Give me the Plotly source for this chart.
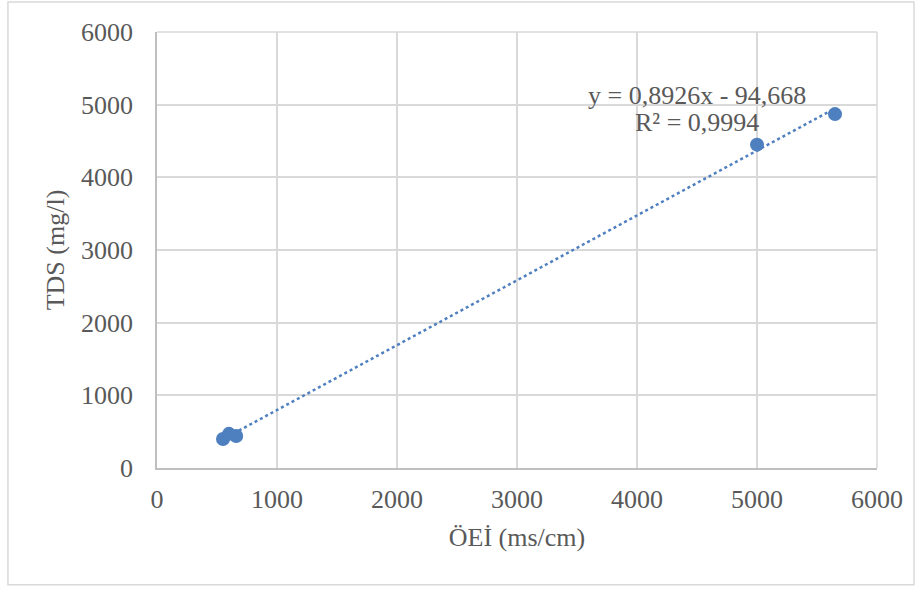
import plotly.graph_objects as go

# Data
oei = [550, 600, 660, 5000, 5650]          # ÖEİ (ms/cm)
tds = [400, 470, 440, 4450, 4870]          # TDS (mg/l)
slope = 0.8926
intercept = -94.668
eq_text = "y = 0,8926x - 94,668"
r2_text = "R² = 0,9994"
tick_vals = [0, 1000, 2000, 3000, 4000, 5000, 6000]

blue = "#4e7fbf"
font = "Liberation Serif, Times New Roman, serif"
fs = 26

x_fit = [min(oei), max(oei)]
y_fit = [slope * v + intercept for v in x_fit]

fig = go.Figure()
fig.add_trace(go.Scatter(x=x_fit, y=y_fit, mode="lines",
                         line=dict(color=blue, width=2.5, dash="dot"),
                         hoverinfo="skip", showlegend=False))
fig.add_trace(go.Scatter(x=oei, y=tds, mode="markers",
                         marker=dict(color=blue, size=14),
                         showlegend=False))

fig.add_annotation(x=4500, y=5133, xref="x", yref="y", text=eq_text,
                   showarrow=False, xanchor="center", yanchor="middle",
                   font=dict(family=font, size=fs, color="#595959"))
fig.add_annotation(x=4500, y=4748, xref="x", yref="y", text=r2_text,
                   showarrow=False, xanchor="center", yanchor="middle",
                   font=dict(family=font, size=fs, color="#595959"))

# outer chart border
fig.add_shape(type="rect", xref="paper", yref="paper",
              x0=-0.207, x1=1.0514, y0=-0.268, y1=1.0688,
              line=dict(color="#d9d9d9", width=1.5), layer="below")
# right and top plot-area edges (light gridline colour)
fig.add_shape(type="line", xref="paper", yref="paper", x0=1, x1=1, y0=0, y1=1,
              line=dict(color="#d9d9d9", width=1.5), layer="below")
fig.add_shape(type="line", xref="paper", yref="paper", x0=0, x1=1, y0=1, y1=1,
              line=dict(color="#d9d9d9", width=1.5), layer="below")

fig.update_layout(
    width=922, height=589,
    margin=dict(l=157, r=45, t=32, b=121),
    paper_bgcolor="white", plot_bgcolor="white",
    font=dict(family=font, size=fs, color="#595959"),
    xaxis=dict(range=[0, 6000], tickvals=tick_vals, showgrid=True,
               gridcolor="#d9d9d9", gridwidth=1.5, zeroline=False,
               showline=True, linecolor="#bfbfbf", linewidth=1.5,
               ticks="", ticklabelstandoff=7,
               title=dict(text="ÖEİ (ms/cm)", standoff=15,
                          font=dict(family=font, size=fs, color="#595959"))),
    yaxis=dict(range=[0, 6000], tickvals=tick_vals, showgrid=True,
               gridcolor="#d9d9d9", gridwidth=1.5, zeroline=False,
               showline=True, linecolor="#bfbfbf", linewidth=1.5,
               ticks="", ticklabelstandoff=17,
               title=dict(text="TDS (mg/l)", standoff=9,
                          font=dict(family=font, size=fs, color="#595959"))),
)

fig.write_html("out.html", config={"displayModeBar": False})

# remove default page margin so the figure sits at the window origin
with open("out.html", encoding="utf-8") as f:
    html = f.read()
html = html.replace("<head>", "<head><style>html,body{margin:0;padding:0;}</style>", 1)
with open("out.html", "w", encoding="utf-8") as f:
    f.write(html)
